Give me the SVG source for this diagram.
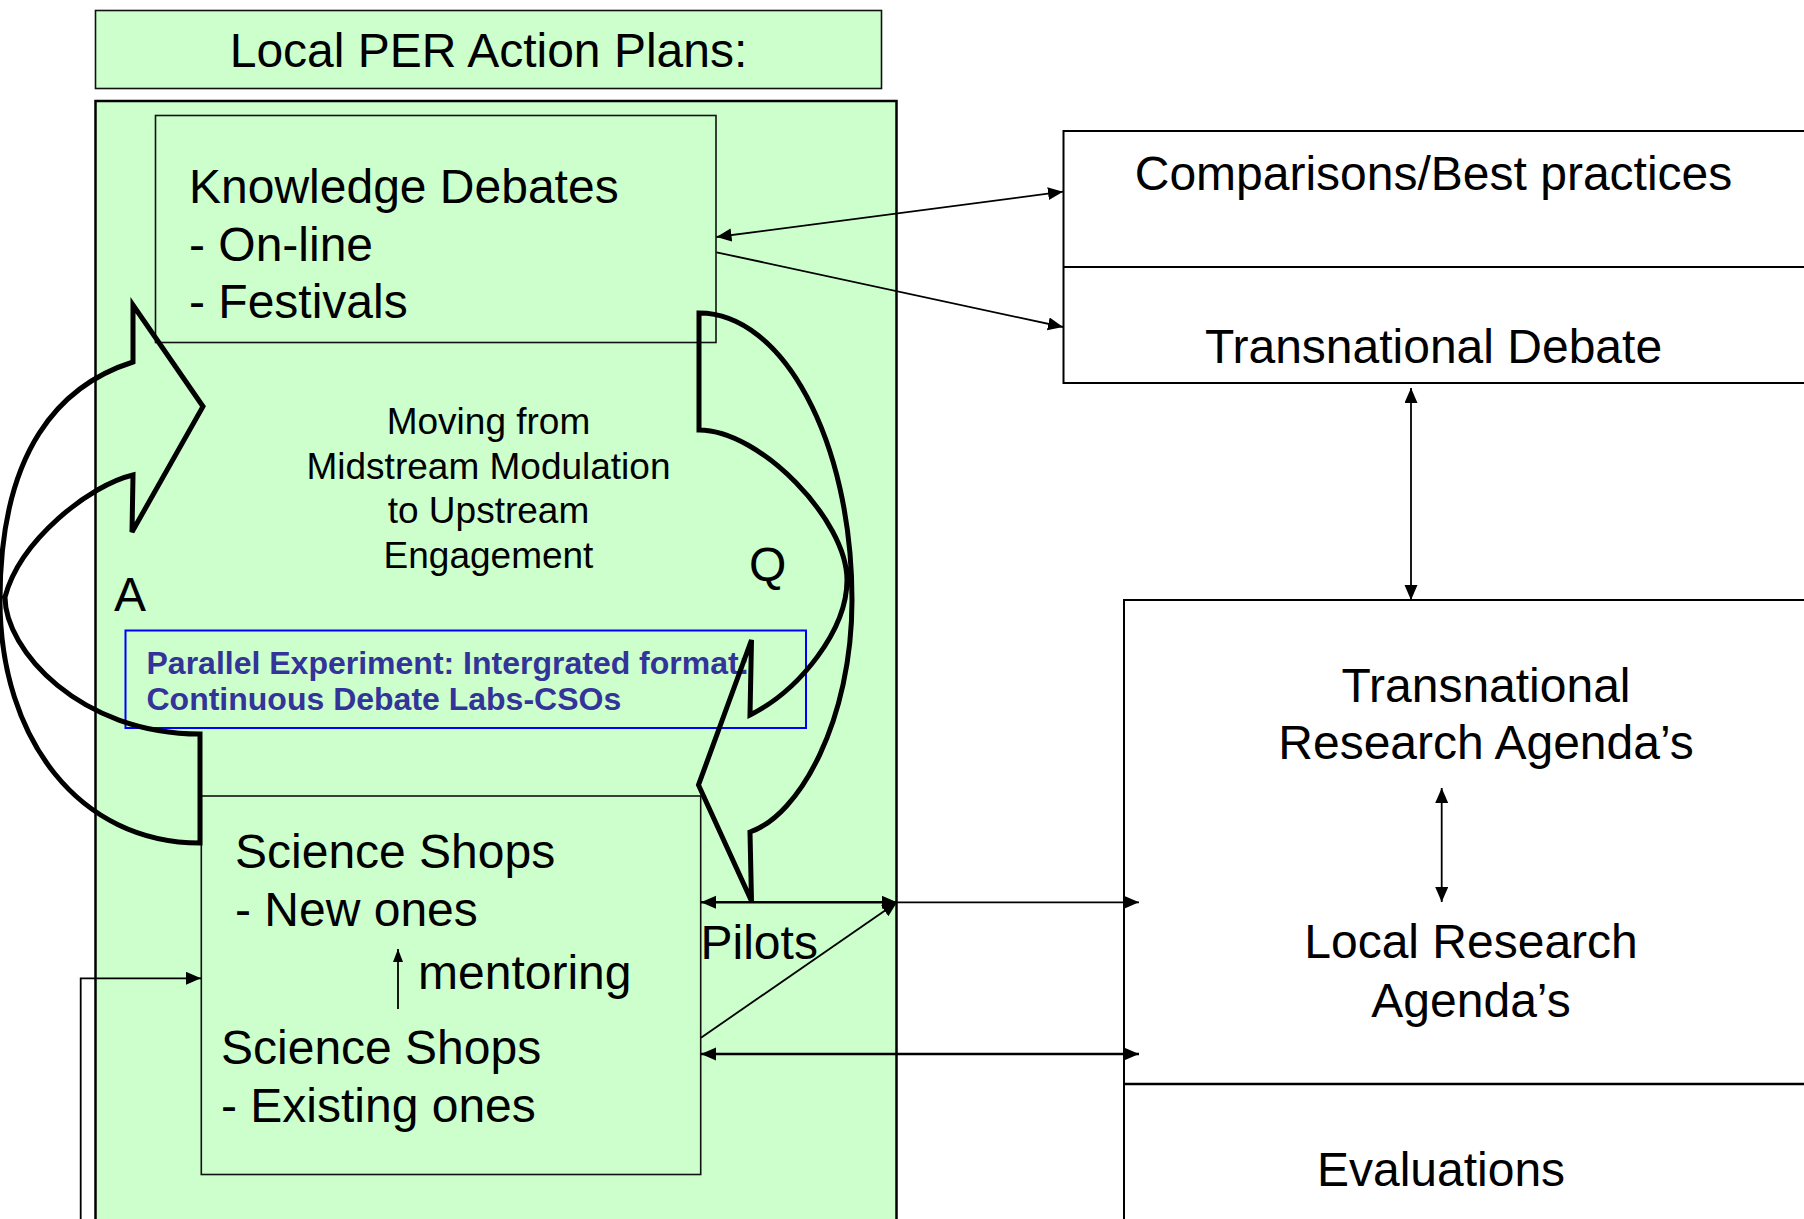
<svg xmlns="http://www.w3.org/2000/svg" width="1804" height="1219" viewBox="0 0 1804 1219">
<style>
.t{font-family:"Liberation Sans",Arial,sans-serif;font-size:48px;fill:#000}
.m{font-family:"Liberation Sans",Arial,sans-serif;font-size:37px;fill:#000}
.b{font-family:"Liberation Sans",Arial,sans-serif;font-size:32px;font-weight:bold;fill:#333399}
.g{fill:#CCFFCC;stroke:#111;stroke-width:1.6}
.w{fill:#FFFFFF;stroke:#000;stroke-width:2}
.c{fill:none;stroke:#000;stroke-width:1.8}
.big{fill:none;stroke:#000;stroke-width:5;stroke-linejoin:miter}
</style>
<defs>
<marker id="ah" markerUnits="userSpaceOnUse" markerWidth="16" markerHeight="14" refX="15" refY="6.5" orient="auto-start-reverse">
<path d="M0,0 L15,6.5 L0,13 z" fill="#000"/>
</marker>
<marker id="ahs" markerUnits="userSpaceOnUse" markerWidth="14" markerHeight="12" refX="13" refY="5" orient="auto-start-reverse">
<path d="M0,0 L13,5 L0,10 z" fill="#000"/>
</marker>
</defs>
<rect width="1804" height="1219" fill="#FFFFFF"/>

<g id="title">
<rect class="g" x="95.5" y="10.5" width="786" height="78"/>
<text class="t" x="488.5" y="67" text-anchor="middle">Local PER Action Plans:</text>
</g>

<g id="container">
<rect x="95.5" y="101" width="801" height="1140" fill="#CCFFCC" stroke="#000" stroke-width="2.5"/>
</g>

<g id="knowledge">
<rect class="g" x="155.5" y="115.5" width="560.5" height="227"/>
<text class="t" x="189" y="203">Knowledge Debates</text>
<text class="t" x="189" y="260.5">- On-line</text>
<text class="t" x="189" y="317.5">- Festivals</text>
</g>

<g id="moving">
<text class="m" x="488.5" y="434" text-anchor="middle">Moving from</text>
<text class="m" x="488.5" y="479" text-anchor="middle">Midstream Modulation</text>
<text class="m" x="488.5" y="523" text-anchor="middle">to Upstream</text>
<text class="m" x="488.5" y="568" text-anchor="middle">Engagement</text>
</g>

<g id="science">
<rect class="g" x="201.3" y="796" width="499.4" height="378.5" stroke-width="2"/>
<text class="t" x="235" y="868">Science Shops</text>
<text class="t" x="235" y="926">- New ones</text>
<text class="t" x="418" y="989">mentoring</text>
<text class="t" x="221" y="1064">Science Shops</text>
<text class="t" x="221" y="1121.5">- Existing ones</text>
</g>

<g id="parallel">
<rect x="125.5" y="630.5" width="680.5" height="97.5" fill="none" stroke="#0000FF" stroke-width="2"/>
<text class="b" x="146.5" y="673.5">Parallel Experiment: Intergrated format:</text>
<text class="b" x="146.5" y="710">Continuous Debate Labs-CSOs</text>
</g>

<g id="labelA"><text class="t" x="114" y="611">A</text></g>
<g id="labelQ"><text class="t" x="749" y="580.5">Q</text></g>
<g id="pilots"><text class="t" x="700.5" y="958.5">Pilots</text></g>

<g id="comparisons">
<rect class="w" x="1063.5" y="131" width="760" height="252"/>
<line x1="1063.5" y1="267" x2="1810" y2="267" stroke="#000" stroke-width="2"/>
<text class="t" x="1433.5" y="189.5" text-anchor="middle">Comparisons/Best practices</text>
<text class="t" x="1433.5" y="362.5" text-anchor="middle">Transnational Debate</text>
</g>

<g id="research">
<rect class="w" x="1124" y="600" width="700" height="650"/>
<line x1="1124" y1="1084" x2="1810" y2="1084" stroke="#000" stroke-width="2.5"/>
<text class="t" x="1486" y="701.5" text-anchor="middle">Transnational</text>
<text class="t" x="1486" y="759" text-anchor="middle">Research Agenda’s</text>
<text class="t" x="1471" y="958" text-anchor="middle">Local Research</text>
<text class="t" x="1471" y="1016.5" text-anchor="middle">Agenda’s</text>
<text class="t" x="1441" y="1185.5" text-anchor="middle">Evaluations</text>
</g>

<g id="arrowA">
<path class="big" d="M200,843 L200,734 C80,734 5,650 5,597 C20,540 90,485 133,475 L132,532 L203,406.5 L133,305 L133,362 C60,385 0,450 0,600 C0,740 80,843 200,843 Z"/>
</g>

<g id="arrowQ">
<path class="big" d="M699,313 C783,313 852,441 852,600 C852,720 800,815 750,832 L751.5,901 L698.5,785 L751.5,640 L750,715 C800,690 847,630 847,580 C847,520 760,430 699,430 Z"/>
</g>

<g id="connectors">
<line class="c" x1="716.5" y1="237" x2="1063" y2="191.7" marker-start="url(#ah)" marker-end="url(#ah)"/>
<line class="c" x1="716.5" y1="252.3" x2="1063" y2="327" marker-end="url(#ah)"/>
<line class="c" x1="1411" y1="388" x2="1411" y2="600" marker-start="url(#ah)" marker-end="url(#ah)"/>
<line class="c" x1="1441.7" y1="788" x2="1441.7" y2="902" marker-start="url(#ah)" marker-end="url(#ah)"/>
<line x1="701" y1="902.3" x2="897" y2="902.3" stroke="#000" stroke-width="2.5" marker-start="url(#ah)" marker-end="url(#ah)"/>
<line class="c" x1="897" y1="902.3" x2="1139" y2="902.3" marker-end="url(#ah)"/>
<line class="c" x1="701" y1="1037.7" x2="897" y2="902.3" stroke-width="1.6" marker-end="url(#ah)"/>
<line x1="701" y1="1054" x2="1139" y2="1054" stroke="#000" stroke-width="2.5" marker-start="url(#ah)" marker-end="url(#ah)"/>
<polyline class="c" points="80.7,1225 80.7,978.3 201,978.3" marker-end="url(#ah)"/>
<line x1="398" y1="1009" x2="398" y2="949" stroke="#000" stroke-width="1.8" marker-end="url(#ahs)"/>
</g>
</svg>
